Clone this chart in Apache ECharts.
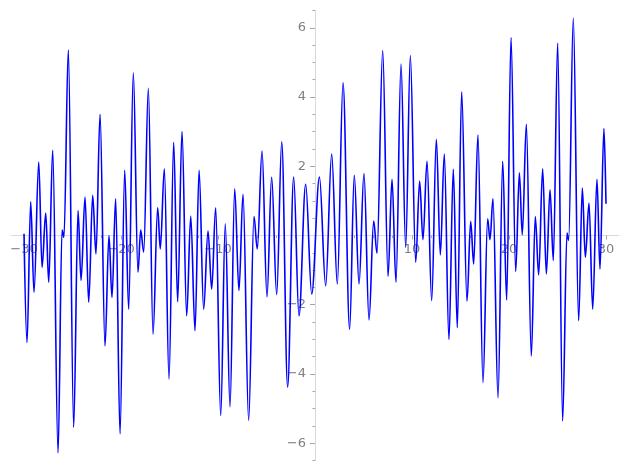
<!DOCTYPE html>
<html>
<head>
<meta charset="utf-8">
<script src="https://cdn.jsdelivr.net/npm/echarts@6/dist/echarts.min.js"></script>
<style>
  html, body { margin: 0; padding: 0; background: #fff; }
  #chart { width: 627px; height: 470px; }
</style>
</head>
<body>
<div id="chart"></div>
<script>
// curve: peaks and troughs, left to right
const xs = [
  -30.0, -29.69, -29.31, -28.97, -28.48, -28.14, -27.76, -27.45, -27.04, -26.49,
  -26.08, -25.88, -25.43, -24.88, -24.43, -24.12, -23.71, -23.33, -22.92, -22.58,
  -22.16, -21.65, -21.24, -20.93, -20.55, -20.10, -19.62, -19.21, -18.73, -18.25,
  -17.97, -17.66, -17.18, -16.70, -16.22, -15.95, -15.53, -15.05, -14.57, -14.16,
  -13.71, -13.23, -12.81, -12.37, -11.95, -11.48, -11.03, -10.65, -10.24, -9.72,
  -9.25, -8.76, -8.28, -7.84, -7.42, -6.84, -6.29, -5.95, -5.46, -4.95,
  -4.47, -3.95, -3.43, -2.82, -2.20, -1.65, -0.96, -0.34, 0.46, 1.10,
  1.72, 2.30, 2.89, 3.57, 4.05, 4.54, 5.05, 5.57, 6.05, 6.39,
  6.98, 7.53, 7.94, 8.35, 8.87, 9.35, 9.83, 10.38, 10.79, 11.13,
  11.55, 12.03, 12.51, 12.92, 13.33, 13.81, 14.26, 14.67, 15.12, 15.67,
  16.05, 16.36, 16.80, 17.32, 17.80, 18.04, 18.35, 18.87, 19.35, 19.76,
  20.21, 20.69, 21.07, 21.37, 21.79, 22.30, 22.71, 23.06, 23.47, 23.85,
  24.23, 24.57, 25.02, 25.53, 25.98, 26.15, 26.63, 27.18, 27.56, 27.87,
  28.25, 28.63, 29.07, 29.38, 29.79, 30.0
];
const ys = [
  0.05, -3.09, 0.97, -1.64, 2.12, -0.92, 0.65, -1.35, 2.46, -6.28,
  0.16, -0.05, 5.36, -5.54, 0.72, -1.30, 1.11, -1.93, 1.16, -0.53,
  3.50, -3.19, 0.00, -1.79, 1.06, -5.73, 1.88, -2.13, 4.70, -1.06,
  0.16, -0.48, 4.25, -2.85, 0.80, -0.39, 1.93, -4.15, 2.69, -1.91,
  3.00, -2.32, 0.56, -2.75, 1.88, -2.13, 0.13, -1.55, 0.80, -5.20,
  0.34, -4.95, 1.35, -1.59, 1.19, -5.34, 0.55, -0.39, 2.44, -1.77,
  1.69, -1.71, 2.71, -4.38, 1.69, -2.32, 1.48, -1.69, 1.69, -1.45,
  2.35, -1.40, 4.41, -2.71, 1.74, -1.40, 1.79, -2.44, 0.42, -0.51,
  5.34, -1.18, 1.62, -1.35, 4.95, -0.34, 5.20, -0.77, 1.57, -0.12,
  2.14, -1.88, 2.78, -0.56, 2.35, -3.00, 1.91, -2.66, 4.15, -1.90,
  0.41, -0.82, 2.90, -4.25, 0.48, -0.12, 1.06, -4.69, 2.14, -1.86,
  5.72, -1.04, 1.81, 0.02, 3.21, -3.48, 0.55, -1.14, 1.93, -1.11,
  1.32, -0.72, 5.56, -5.36, 0.07, -0.14, 6.28, -2.46, 1.37, -0.63,
  0.94, -2.13, 1.62, -0.97, 3.09, 0.92
];

const xMajor = [-30, -20, -10, 10, 20, 30];
const xMinor = [-28, -26, -24, -22, -18, -16, -14, -12, -8, -6, -4, -2, 2, 4, 6, 8, 12, 14, 16, 18, 22, 24, 26, 28];
const yMajor = [-6, -4, -2, 2, 4, 6];
const yMinor = [-6.5, -5.5, -5, -4.5, -3.5, -3, -2.5, -1.5, -1, -0.5, 0.5, 1, 1.5, 2.5, 3, 3.5, 4.5, 5, 5.5, 6.5];

const X_MIN = -31.3, X_MAX = 31.3, Y_MIN = -6.5, Y_MAX = 6.5;
const lineColor = '#d9d9d9';
const tickColor = '#a6a6a6';
const labelColor = '#808080';
const fmt = v => (v < 0 ? '\u2212' + Math.abs(v) : String(v));
const labelFont = { color: labelColor, fontSize: 13, fontFamily: 'DejaVu Sans' };

// plot box and the two "spines" through the origin, each drawn as the edge of its own grid
const L = 11.4, W = 607.2, T = 10.5, H = 450;
const x0px = 315, y0px = T + H / 2;

const hidden = (gridIndex, min, max) => ({ type: 'value', gridIndex, min, max, show: false });

const chart = echarts.init(document.getElementById('chart'));
chart.setOption({
  animation: false,
  backgroundColor: '#fff',
  grid: [
    { left: L, width: W, top: T, height: H, outerBoundsMode: 'none' },
    { left: L, width: W, top: T, height: y0px - T, outerBoundsMode: 'none' },
    { left: L, width: W, top: T, height: y0px - T, outerBoundsMode: 'none' },
    { left: x0px, width: L + W - x0px, top: T, height: H, outerBoundsMode: 'none' },
    { left: x0px, width: L + W - x0px, top: T, height: H, outerBoundsMode: 'none' }
  ],
  xAxis: [
    hidden(0, X_MIN, X_MAX),
    {
      type: 'value', gridIndex: 1, min: X_MIN, max: X_MAX, position: 'bottom',
      axisLine: { onZero: false, lineStyle: { color: lineColor, width: 1 } },
      axisTick: { customValues: xMajor, length: 4, lineStyle: { color: tickColor } },
      axisLabel: Object.assign({ customValues: xMajor, formatter: fmt, margin: 8 }, labelFont),
      splitLine: { show: false }
    },
    {
      type: 'value', gridIndex: 2, min: X_MIN, max: X_MAX, position: 'bottom',
      axisLine: { show: false, onZero: false },
      axisTick: { customValues: xMinor, length: 2.5, lineStyle: { color: tickColor } },
      axisLabel: { show: false },
      splitLine: { show: false }
    },
    hidden(3, X_MIN, X_MAX),
    hidden(4, X_MIN, X_MAX)
  ],
  yAxis: [
    hidden(0, Y_MIN, Y_MAX),
    hidden(1, 0, Y_MAX),
    hidden(2, 0, Y_MAX),
    {
      type: 'value', gridIndex: 3, min: Y_MIN, max: Y_MAX, position: 'left',
      axisLine: { onZero: false, lineStyle: { color: lineColor, width: 1 } },
      axisTick: { customValues: yMajor, length: 5, lineStyle: { color: tickColor } },
      axisLabel: Object.assign({ customValues: yMajor, formatter: fmt, margin: 9 }, labelFont),
      splitLine: { show: false }
    },
    {
      type: 'value', gridIndex: 4, min: Y_MIN, max: Y_MAX, position: 'left',
      axisLine: { show: false, onZero: false },
      axisTick: { customValues: yMinor, length: 2.5, lineStyle: { color: tickColor } },
      axisLabel: { show: false },
      splitLine: { show: false }
    }
  ],
  series: [
    {
      type: 'line',
      xAxisIndex: 0,
      yAxisIndex: 0,
      data: xs.map((x, i) => [x, ys[i]]),
      showSymbol: false,
      smooth: 0.36,
      smoothMonotone: 'x',
      lineStyle: { color: '#0000ff', width: 1.6 }
    }
  ]
});
</script>
</body>
</html>
